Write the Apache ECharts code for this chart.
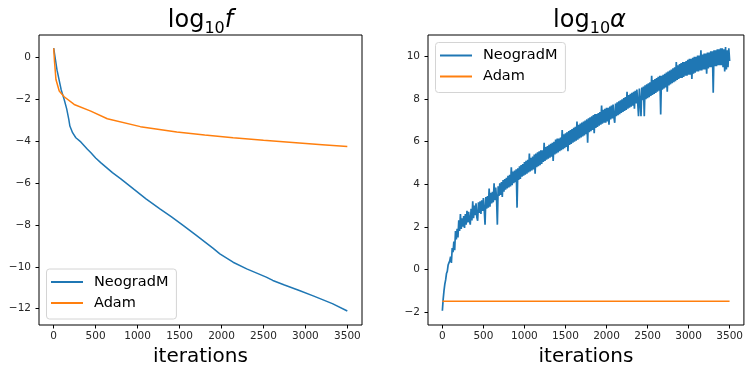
<!DOCTYPE html>
<html>
<head>
<meta charset="utf-8">
<script src="https://cdn.jsdelivr.net/npm/echarts@6/dist/echarts.min.js"></script>
<style>
html, body { margin: 0; padding: 0; background: #fff; }
#chart { width: 746px; height: 372px; }
</style>
</head>
<body>
<div id="chart"></div>
<script>
// Tick values shared by both panels
const iterTicks = [0, 500, 1000, 1500, 2000, 2500, 3000, 3500];
const lossTicks = [-12, -10, -8, -6, -4, -2, 0];
const rateTicks = [-2, 0, 2, 4, 6, 8, 10];

const seriesNames = ['NeogradM', 'Adam'];
const panelTitles = [
  { head: 'log', sub: '10', tail: 'f' },
  { head: 'log', sub: '10', tail: 'α' }
];
const xAxisTitle = 'iterations';

// log10 f against iteration
const neogradLoss = [
  [0, 0.45], [40, -0.6], [90, -1.55], [125, -2.0], [155, -2.45], [180, -2.95],
  [193, -3.27], [225, -3.59], [264, -3.83], [323, -4.03], [402, -4.38], [441, -4.54],
  [500, -4.8], [560, -5.02], [700, -5.5], [800, -5.8], [954, -6.29], [1100, -6.75],
  [1270, -7.24], [1400, -7.6], [1546, -8.03], [1700, -8.5], [1901, -9.12], [1980, -9.38],
  [2138, -9.78], [2300, -10.1], [2533, -10.49], [2611, -10.65], [2750, -10.87],
  [2927, -11.13], [3100, -11.4], [3321, -11.76], [3499, -12.11]
];
const adamLoss = [
  [0, 0.45], [10, -0.2], [27, -1.05], [66, -1.6], [125, -1.87], [244, -2.24],
  [442, -2.56], [639, -2.92], [1033, -3.3], [1467, -3.56], [1800, -3.7],
  [2138, -3.83], [2500, -3.95], [2927, -4.08], [3200, -4.16], [3499, -4.25]
];

// log10 alpha, one reading every rateStep iterations (noisy, with occasional dips)
const rateStep = 10;
const neogradRate = [
  -1.95, -1.4, -1.0, -0.7, -0.5, -0.2, -0.1, 0.2, 0.3, 0.4,
  0.6, 0.3, 1.0, 0.8, 1.3, 0.9, 1.8, 1.4, 1.9, 1.5,
  2.3, 1.8, 2.6, 1.9, 2.4, 2.0, 2.5, 1.95, 2.6, 2.1,
  2.75, 2.2, 2.7, 2.3, 2.1, 2.85, 2.3, 3.2, 2.4, 3.0,
  2.55, 3.1, 2.45, 2.28, 3.15, 2.65, 3.2, 2.6, 3.25, 2.75,
  3.35, 2.8, 2.1, 3.4, 2.85, 3.45, 2.9, 3.8, 2.95, 3.6,
  3.1, 3.65, 3.15, 4.05, 3.25, 3.85, 3.35, 2.1, 3.9, 3.45,
  4.05, 3.5, 4.1, 3.4, 4.2, 3.65, 4.25, 3.75, 4.3, 3.8,
  4.4, 3.85, 4.45, 3.9, 4.8, 3.95, 4.6, 4.05, 4.65, 4.1,
  4.7, 2.9, 4.75, 4.2, 4.85, 4.25, 4.9, 4.35, 4.95, 4.4,
  5.05, 4.45, 5.1, 4.5, 5.15, 4.55, 5.45, 4.6, 5.25, 4.65,
  5.3, 4.7, 5.4, 4.5, 5.45, 4.8, 5.5, 4.85, 5.55, 4.9,
  5.6, 4.95, 5.6, 5.05, 5.95, 5.1, 5.75, 5.15, 5.8, 5.2,
  5.85, 5.25, 5.9, 5.3, 5.95, 5.1, 6.0, 5.4, 6.1, 5.45,
  6.15, 5.5, 6.15, 5.55, 6.2, 5.6, 6.55, 5.65, 6.35, 5.7,
  6.4, 5.75, 6.45, 5.55, 6.5, 5.85, 6.55, 5.9, 6.6, 5.95,
  6.65, 6.0, 6.7, 6.05, 6.95, 6.1, 6.8, 6.15, 6.85, 6.2,
  6.9, 6.25, 6.95, 6.3, 7.0, 6.35, 7.05, 5.95, 7.1, 6.45,
  7.15, 6.5, 7.2, 6.55, 7.25, 6.4, 7.3, 6.65, 7.3, 6.7,
  7.35, 6.75, 7.4, 6.8, 7.7, 6.85, 7.5, 6.9, 7.55, 6.9,
  7.6, 6.95, 7.6, 6.8, 7.65, 7.05, 7.7, 7.1, 7.75, 7.15,
  6.89, 7.8, 7.2, 7.85, 7.25, 7.9, 7.3, 7.95, 7.35, 8.0,
  7.4, 8.05, 7.45, 8.1, 7.5, 8.35, 7.55, 8.2, 7.6, 8.25,
  7.65, 8.3, 7.7, 8.35, 7.55, 8.4, 7.8, 8.45, 7.85, 7.2,
  8.5, 7.9, 7.2, 8.55, 7.95, 8.6, 7.2, 8.65, 8.0, 8.7,
  8.05, 8.75, 8.1, 8.8, 8.15, 9.1, 8.2, 8.9, 8.25, 8.95,
  8.3, 9.0, 8.35, 9.05, 8.4, 9.1, 7.28, 9.1, 8.45, 9.15,
  8.5, 9.2, 8.55, 9.25, 8.35, 9.3, 8.65, 9.35, 8.7, 9.4,
  8.75, 9.45, 8.8, 9.5, 8.85, 9.75, 8.9, 9.6, 8.95, 9.65,
  9.0, 9.7, 9.0, 9.75, 9.05, 9.75, 9.1, 9.8, 9.1, 9.85,
  9.15, 9.9, 9.15, 9.9, 8.95, 9.95, 9.2, 10.0, 9.25, 10.0,
  9.3, 10.05, 9.3, 10.05, 9.35, 10.3, 9.35, 10.1, 9.4, 10.15,
  9.4, 10.15, 9.2, 10.2, 9.45, 10.2, 9.5, 10.25, 9.5, 10.25,
  8.3, 10.3, 9.55, 10.3, 9.55, 10.35, 9.6, 10.35, 9.6, 10.4,
  9.6, 10.4, 9.5, 10.35, 9.3, 10.45, 9.4, 10.3, 9.5, 10.4,
  9.8
];
const adamRate = [[0, -1.5], [3499, -1.5]];

const colors = ['#1f77b4', '#ff7f0e'];
const FONT = 'DejaVu Sans';

const minusSign = v => String(v).replace('-', '\u2212');

function gridBox(left) {
  return { left: left, top: 35, width: 323, height: 291, show: true,
           borderColor: '#000', borderWidth: 1, backgroundColor: 'transparent' };
}

function xAxisFor(gridIndex) {
  return {
    type: 'value', gridIndex: gridIndex, min: -175, max: 3674, position: 'bottom',
    axisLine: { show: false, onZero: false }, splitLine: { show: false },
    axisTick: { show: true, customValues: iterTicks, length: 3.5, lineStyle: { color: '#000', width: 1 } },
    axisLabel: { customValues: iterTicks, margin: 6, fontSize: 10.5, color: '#262626', fontFamily: FONT,
                 formatter: v => String(v) },
    name: xAxisTitle, nameLocation: 'middle', nameGap: 22,
    nameTextStyle: { fontSize: 20, color: '#000', fontFamily: FONT }
  };
}

function yAxisFor(gridIndex, min, max, ticks) {
  return {
    type: 'value', gridIndex: gridIndex, min: min, max: max, position: 'left',
    axisLine: { show: false, onZero: false }, splitLine: { show: false },
    axisTick: { show: true, customValues: ticks, length: 3.5, lineStyle: { color: '#000', width: 1 } },
    axisLabel: { customValues: ticks, margin: 8, fontSize: 10.5, color: '#262626', fontFamily: FONT,
                 formatter: minusSign }
  };
}

function legendAt(left, top) {
  return {
    data: seriesNames, orient: 'vertical', left: left, top: top,
    icon: 'rect', itemWidth: 32, itemHeight: 2, itemGap: 4,
    padding: [4.5, 8, 7.5, 4.5],
    borderColor: '#d4d4d4', borderWidth: 1, borderRadius: 3,
    backgroundColor: 'rgba(255,255,255,0.8)', selectedMode: false,
    textStyle: { fontSize: 14.5, lineHeight: 17, color: '#000', fontFamily: FONT, padding: [0, 0, 0, 6] }
  };
}

function titleText(t, centerX) {
  return {
    type: 'text', x: centerX, y: 9, z: 10,
    style: {
      text: '{a|' + t.head + '}{b|' + t.sub + '}{c|' + t.tail + '}',
      align: 'center',
      rich: {
        a: { fontSize: 24, lineHeight: 26, verticalAlign: 'top', fontFamily: FONT, fill: '#000' },
        b: { fontSize: 16, lineHeight: 16, verticalAlign: 'top', padding: [12, 0, 0, 0], fontFamily: FONT, fill: '#000' },
        c: { fontSize: 24, lineHeight: 26, verticalAlign: 'top', fontStyle: 'italic', fontFamily: FONT, fill: '#000' }
      }
    }
  };
}

function lineSeries(name, data, axisIndex, color, width) {
  return {
    type: 'line', name: name, data: data, xAxisIndex: axisIndex, yAxisIndex: axisIndex,
    showSymbol: false, symbol: 'none', color: color,
    lineStyle: { width: width, color: color }, animation: false
  };
}

const neogradRatePts = neogradRate.map((v, i) => [i * rateStep, v]);

const chart = echarts.init(document.getElementById('chart'), null, { renderer: 'canvas' });
chart.setOption({
  animation: false,
  backgroundColor: '#fff',
  grid: [gridBox(39), gridBox(428)],
  xAxis: [xAxisFor(0), xAxisFor(1)],
  yAxis: [yAxisFor(0, -12.78, 1.08, lossTicks), yAxisFor(1, -2.62, 11.02, rateTicks)],
  legend: [legendAt(46.5, 269), legendAt(435.5, 42.5)],
  graphic: [titleText(panelTitles[0], 200.5), titleText(panelTitles[1], 589.5)],
  series: [
    lineSeries(seriesNames[0], neogradLoss, 0, colors[0], 1.5),
    lineSeries(seriesNames[1], adamLoss, 0, colors[1], 1.5),
    lineSeries(seriesNames[0], neogradRatePts, 1, colors[0], 1.7),
    lineSeries(seriesNames[1], adamRate, 1, colors[1], 1.5)
  ]
});
</script>
</body>
</html>
